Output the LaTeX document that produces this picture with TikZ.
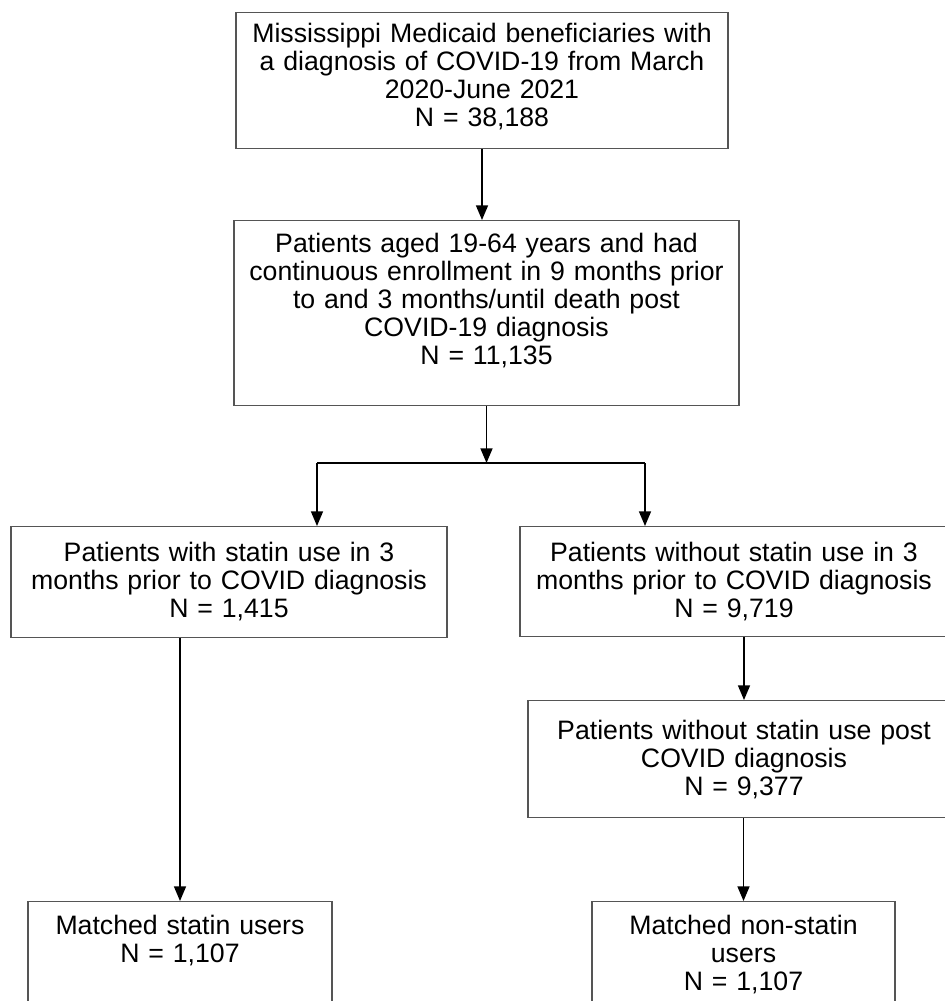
\documentclass[tikz,border=0pt]{standalone}
\usepackage{fontspec}
\setmainfont{Liberation Sans}
\usetikzlibrary{arrows.meta}

\begin{document}
\begin{tikzpicture}[x=0.75pt,y=0.75pt,yscale=-1,xscale=1,
  flowbox/.style={draw={rgb, 255:red, 85; green, 85; blue, 85 },line width=0.9pt,anchor=north,inner sep=0pt,align=center,font=\fontsize{20}{21}\selectfont},
  flowarr/.style={line width=1.1pt,-{Triangle[width=9pt,length=11pt]}}]
%set diagram left start at 0, and has height of 1001
\useasboundingbox (0,0) rectangle (945,1001);
\clip (0,0) rectangle (945,1001);

%Flowchart: Process [all beneficiaries]
\node[flowbox,text width=369pt,text height=22.5pt,text depth=79.5pt] (pop) at (482,12) {Mississippi Medicaid beneficiaries with\\a diagnosis of COVID-19 from March\\2020-June 2021\\N = 38,188};
%Flowchart: Process [eligible patients]
\node[flowbox,text width=378.75pt,text height=24pt,text depth=114.75pt] (elig) at (486.5,220) {Patients aged 19-64 years and had\\continuous enrollment in 9 months prior\\to and 3 months/until death post\\COVID-19 diagnosis\\N = 11,135};
%Flowchart: Process [statin users]
\node[flowbox,text width=327pt,text height=26.25pt,text depth=57pt] (s1) at (229,526) {Patients with statin use in 3\\months prior to COVID diagnosis\\N = 1,415};
%Flowchart: Process [non-users]
\node[flowbox,text width=321pt,text height=26.25pt,text depth=56.25pt] (s0) at (734,526) {Patients without statin use in 3\\months prior to COVID diagnosis\\N = 9,719};
%Flowchart: Process [non-users post]
\node[flowbox,text width=324pt,text height=29.25pt,text depth=58.5pt] (np) at (744,700) {Patients without statin use post\\COVID diagnosis\\N = 9,377};
%Flowchart: Process [matched]
\node[flowbox,text width=228pt,text height=24.75pt,text depth=150pt] (ms) at (180,901) {Matched statin users\\N = 1,107};
\node[flowbox,text width=227.25pt,text height=24.75pt,text depth=150pt] (mn) at (743.5,901) {Matched non-statin\\users\\N = 1,107};

%Straight Lines
\coordinate (jl) at (317,463);
\coordinate (jr) at (645,463);
\draw[flowarr] (pop.south) -- (pop.south |- elig.north);
\draw[flowarr] (elig.south) -- (elig.south |- jl);
\draw[line width=1.1pt] (jl) -- (jr);
\draw[flowarr] (jl) -- (jl |- s1.north);
\draw[flowarr] (jr) -- (jr |- s0.north);
\draw[flowarr] (ms.north |- s1.south) -- (ms.north);
\draw[flowarr] (np.north |- s0.south) -- (np.north);
\draw[flowarr] (mn.north |- np.south) -- (mn.north);

\end{tikzpicture}
\end{document}
